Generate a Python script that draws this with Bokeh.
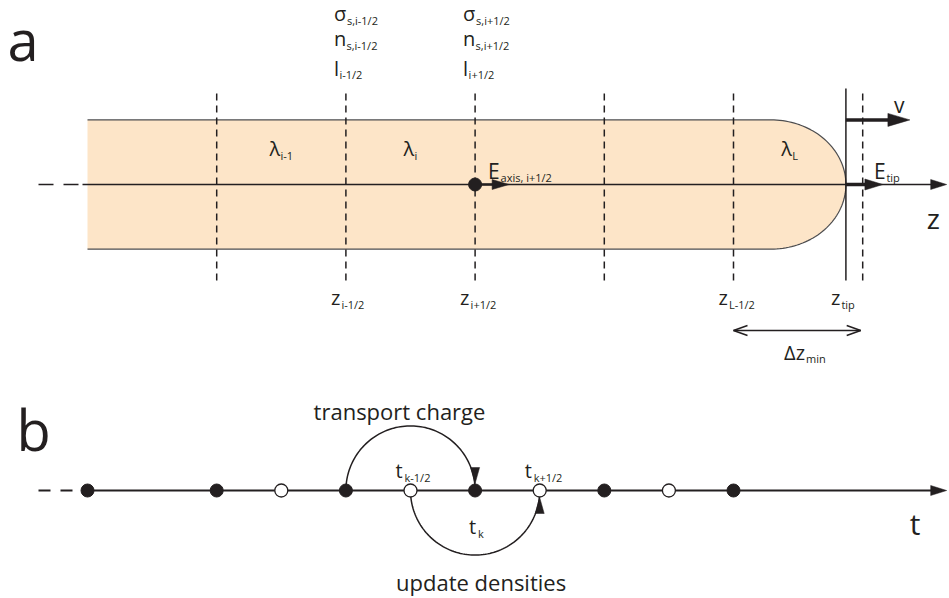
import numpy as np
from bokeh.plotting import figure
from bokeh.models import Range1d
from bokeh.core.properties import value
from bokeh.embed import file_html
from bokeh.resources import INLINE

# ---------------------------------------------------------------------------
# Diagram content (lengths measured in grid cells)
# ---------------------------------------------------------------------------
# (a) discretised streamer channel
face_z = [1, 2, 3, 4, 5]                       # cell faces z_{i+1/2}
face_names = ["", "i-1/2", "i+1/2", "", "L-1/2"]
cell_names = ["i-1", "i", "L"]                 # line-charge labels lambda
cell_lower_face = [1, 2, 5]
surface_faces = ["i-1/2", "i+1/2"]             # faces carrying surface quantities
surface_symbols = ["σ", "n", "l"]
surface_subs = ["s,{}", "s,{}", "{}"]
field_face = "i+1/2"                           # face where E_axis is shown
z_tip = 5.87
dz_min = 1.0
rod_radius = 0.5
cap_length = 0.58
axis_end = 6.65

# (b) leap-frog time stepping
t_full = [0, 1, 2, 3, 4, 5]                    # t_k
t_half = [1.5, 2.5, 3.5, 4.5]                  # t_{k+1/2}
k = 3
phrase_top = "transport charge"
phrase_bottom = "update densities"

# ---------------------------------------------------------------------------
CELL = 129.2            # screen pixels per cell
PX = 1.0 / CELL         # one screen pixel in data units
INK = "#231f20"
ROD_FILL = "#fde5c8"
ROD_EDGE = "#4d4d4f"
FONT = value("Open Sans")

p = figure(width=949, height=598,
           x_range=Range1d(-87 * PX, 862 * PX),
           y_range=Range1d(-414 * PX, 184 * PX),
           output_backend="svg", toolbar_location=None,
           x_axis_location=None, y_axis_location=None, min_border=0)
p.grid.visible = False
p.outline_line_color = None
p.background_fill_color = "white"
p.border_fill_color = "white"

heads_x, heads_y = [], []


def head(xt, yt, ang, length=16, half=5):
    """Filled triangular arrow head with its point at (xt, yt)."""
    c, s = np.cos(ang), np.sin(ang)
    bx, by = xt - length * PX * c, yt - length * PX * s
    ox, oy = -s * half * PX, c * half * PX
    heads_x.append([xt, bx + ox, bx - ox])
    heads_y.append([yt, by + oy, by - oy])


texts = {}


def put(x, y, s, size, align="left"):
    g = texts.setdefault((size, align), dict(x=[], y=[], text=[]))
    g["x"].append(x)
    g["y"].append(y)
    g["text"].append(s)


SUB_DX = {"σ": 13, "n": 12.5, "l": 5.5, "λ": 11, "z": 10.5, "E": 12.5, "t": 9, "Δz": 22}


def text_w(s, size):
    w = 0.0
    for ch in s:
        if ch in "il,.| ":
            w += 0.26
        elif ch == "-":
            w += 0.32
        elif ch == "/":
            w += 0.37
        elif ch.isdigit():
            w += 0.57
        else:
            w += 0.55
    return w * size


def sym(x, y, base, sub, size=20, sub_size=11, drop=7):
    put(x, y, base, size)
    put(x + SUB_DX[base] * PX, y - drop * PX, sub, sub_size)


# ---------------------------------------------------------------------------
# (a) channel
# ---------------------------------------------------------------------------
ry, rx = rod_radius, cap_length
flat_end = z_tip - rx
th = np.linspace(np.pi / 2, -np.pi / 2, 80)
rod_x = np.concatenate([[0.0], flat_end + rx * np.cos(th), [0.0]])
rod_y = np.concatenate([[ry], ry * np.sin(th), [-ry]])
p.patch(rod_x, rod_y, fill_color=ROD_FILL, line_color=None)
p.line(rod_x, rod_y, line_color=ROD_EDGE, line_width=1.2)

half_h = 96 * PX
dashed_x = face_z + [face_z[-1] + dz_min]
p.segment(x0=dashed_x, y0=[-half_h] * len(dashed_x), x1=dashed_x, y1=[half_h] * len(dashed_x),
          line_color=INK, line_width=1.5, line_dash="7 5")
p.segment(x0=[z_tip], y0=[-half_h], x1=[z_tip], y1=[half_h], line_color=INK, line_width=1.5)

# z axis
p.line([-49 * PX, -5 * PX], [0, 0], line_color=INK, line_width=1.5, line_dash="15 10")
p.line([-5 * PX, axis_end - 10 * PX], [0, 0], line_color=INK, line_width=1.5)
head(axis_end, 0, 0.0, 16, 5)

# E_axis at face i+1/2
zf = face_z[face_names.index(field_face)]
p.line([zf, zf + 26 * PX - 8 * PX], [0, 0], line_color=INK, line_width=2.5)
head(zf + 34 * PX, 0, 0.0, 17, 5)
p.scatter([zf], [0], size=13, marker="circle", fill_color=INK, line_color=INK)

# E_tip and velocity
p.line([z_tip, z_tip + 37 * PX - 10 * PX], [0, 0], line_color=INK, line_width=3.5)
head(z_tip + 37 * PX, 0, 0.0, 18, 5.5)
p.line([z_tip, z_tip + 64 * PX - 12 * PX], [ry, ry], line_color=INK, line_width=3.5)
head(z_tip + 64 * PX, ry, 0.0, 22, 6.5)

# delta z_min double arrow
dz_y = -half_h - 50 * PX
dz0, dz1 = face_z[-1], face_z[-1] + dz_min
p.line([dz0, dz1 - 2 * PX], [dz_y, dz_y], line_color=INK, line_width=1.5)
chev_x, chev_y = [], []
for xt, sgn in ((dz0, 1), (dz1 - 2 * PX, -1)):
    chev_x.append([xt + sgn * 14 * PX, xt, xt + sgn * 14 * PX])
    chev_y.append([dz_y + 5 * PX, dz_y, dz_y - 5 * PX])
p.multi_line(chev_x, chev_y, line_color=INK, line_width=1.5)

# labels of panel a
put(-80 * PX, 146 * PX, "a", 56)
for name in surface_faces:
    zf = face_z[face_names.index(name)]
    for sy, fmt, up, drop in zip(surface_symbols, surface_subs, [75, 50, 20], [7, 7, 6]):
        sym(zf - 12 * PX, half_h + up * PX, sy, fmt.format(name), drop=drop)
for zf, name in zip(face_z, face_names):
    if name:
        sym(zf - 15 * PX, -half_h - 17 * PX, "z", name)
sym(z_tip - 15 * PX, -half_h - 17 * PX, "z", "tip")
for name, lo in zip(cell_names, cell_lower_face):
    hi = z_tip if name == "L" else lo + 1
    centre = (lo + hi) / 2
    width = (SUB_DX["λ"] + text_w(name, 11)) * PX
    sym(centre - width / 2, ry - 29 * PX, "λ", name)
zf = face_z[face_names.index(field_face)]
sym(zf + 13 * PX, 14 * PX, "E", "axis, " + field_face, size=21)
sym(z_tip + 28 * PX, 14 * PX, "E", "tip", size=21)
put(z_tip + 48 * PX, ry + 15 * PX, "v", 21)
put(axis_end - 20 * PX, -33 * PX, "z", 28)
sym((dz0 + dz1) / 2 - 14 * PX, dz_y - 22 * PX, "Δz", "min", drop=6)

# ---------------------------------------------------------------------------
# (b) time stepping
# ---------------------------------------------------------------------------
y_b = -306 * PX
r_arc = (t_full[k] - t_full[k - 1]) / 2

p.line([-49 * PX, -15 * PX], [y_b, y_b], line_color=INK, line_width=2, line_dash="12 10")
p.line([t_full[0], axis_end - 10 * PX], [y_b, y_b], line_color=INK, line_width=2)
head(axis_end, y_b, 0.0, 16, 5)

# transport charge: t_{k-1} -> t_k (over the axis)
c_top = (t_full[k - 1] + t_full[k]) / 2
a = np.linspace(np.pi, 0, 90)
p.line(c_top + r_arc * np.cos(a), y_b + r_arc * np.sin(a), line_color=INK, line_width=1.5)
head(t_full[k], y_b + 7 * PX, -np.pi / 2, 16, 4.5)

# update densities: t_{k-1/2} -> t_{k+1/2} (under the axis)
c_bot = (t_half[k - 2] + t_half[k - 1]) / 2
a = np.linspace(np.pi, 2 * np.pi, 90)
p.line(c_bot + r_arc * np.cos(a), y_b + r_arc * np.sin(a), line_color=INK, line_width=1.5)
head(t_half[k - 1], y_b - 7 * PX, np.pi / 2, 16, 4.5)

p.scatter(t_full, [y_b] * len(t_full), size=13, marker="circle",
          fill_color=INK, line_color=INK)
p.scatter(t_half, [y_b] * len(t_half), size=13, marker="circle",
          fill_color="white", line_color=INK, line_width=1.3)

p.patches(heads_x, heads_y, fill_color=INK, line_color=INK, line_width=0.5)

# labels of panel b
put(-71 * PX, y_b + 62 * PX, "b", 56)
put(c_top - 11 * PX, y_b + 80 * PX, phrase_top, 22, "center")
put(c_bot + 6 * PX, y_b - 91 * PX, phrase_bottom, 22, "center")
sym(t_half[k - 2] - 15 * PX, y_b + 20 * PX, "t", "k-1/2")
sym(t_half[k - 1] - 15 * PX, y_b + 20 * PX, "t", "k+1/2")
sym(t_full[k] - 6 * PX, y_b - 36 * PX, "t", "k")
put(axis_end - 37 * PX, y_b - 33 * PX, "t", 30)

for (size, align), g in texts.items():
    p.text(x=g["x"], y=g["y"], text=g["text"], text_font=FONT,
           text_font_size=value(f"{size}px"), text_color=INK,
           text_align=align, text_baseline="alphabetic")

open("out.html", "w").write(file_html(p, INLINE))
